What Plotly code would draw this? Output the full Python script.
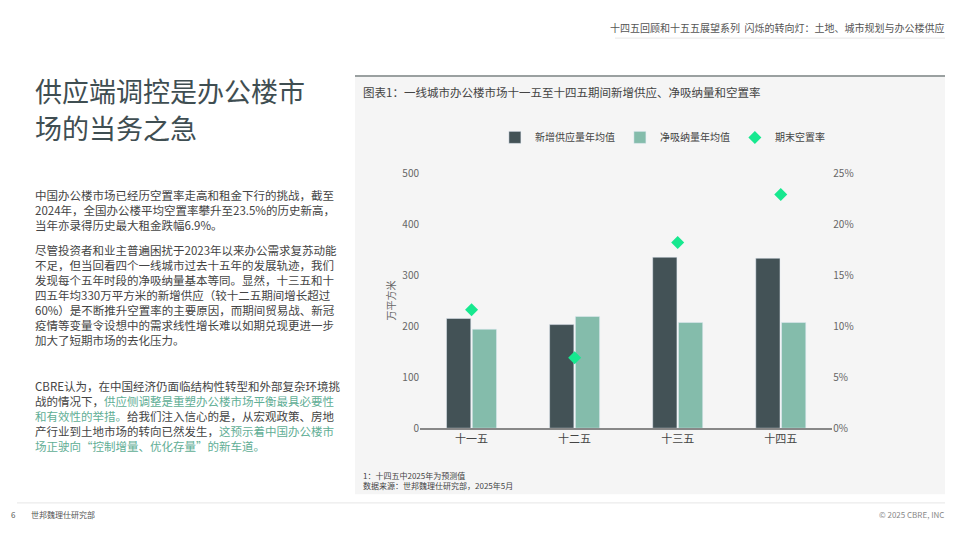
import plotly.graph_objects as go

categories = ["十一五", "十二五", "十三五", "十四五"]
supply = [215, 203, 335, 333]
absorption = [194, 219, 207, 207]
vacancy = [11.6, 6.9, 18.2, 22.9]
y_ticks = [0, 100, 200, 300, 400, 500]
y2_ticks = [0, 5, 10, 15, 20, 25]
y2_labels = ["0%", "5%", "10%", "15%", "20%", "25%"]

FONT = "Noto Sans CJK SC"
DARK = "#435256"
LIGHT = "#84bcab"
GREEN = "#17e88f"
HL = "#5fae95"

fig = go.Figure()
fig.add_bar(x=categories, y=supply, name="新增供应量年均值", marker_color=DARK)
fig.add_bar(x=categories, y=absorption, name="净吸纳量年均值", marker_color=LIGHT)
fig.add_scatter(x=categories, y=vacancy, name="期末空置率", yaxis="y2", mode="markers",
                marker=dict(symbol="diamond", size=10, color=GREEN))

fig.update_layout(
    width=960, height=540, margin=dict(l=0, r=0, t=0, b=0),
    paper_bgcolor="white", plot_bgcolor="rgba(0,0,0,0)",
    font=dict(family=FONT, color="#555", size=10),
    barmode="group", bargap=0.5, bargroupgap=0.06,
    xaxis=dict(domain=[0.4375, 0.867], showline=True, linecolor="#888", linewidth=1.5,
               ticks="", tickfont=dict(size=11, color="#444"), fixedrange=True),
    yaxis=dict(domain=[0.2, 0.687], range=[0, 500], tickvals=y_ticks, showgrid=False,
               zeroline=False, tickfont=dict(size=10, color="#666"),
               title=dict(text="万平方米", font=dict(size=10, color="#666"), standoff=4)),
    yaxis2=dict(overlaying="y", side="right", range=[0, 25], tickvals=y2_ticks,
                ticktext=y2_labels, showgrid=False, zeroline=False,
                tickfont=dict(size=10, color="#666")),
    legend=dict(orientation="h", x=0.69, xanchor="center", y=0.755, yanchor="middle",
                font=dict(size=10, color="#444"), bgcolor="rgba(0,0,0,0)"),
    shapes=[
        dict(type="rect", xref="paper", yref="paper", x0=355/960, x1=945/960,
             y0=1-500/540, y1=1-69/540, fillcolor="#f5f5f5", line_width=0, layer="below"),
        dict(type="line", xref="paper", yref="paper", x0=355/960, x1=945/960,
             y0=1-69/540, y1=1-69/540, line=dict(color="#9aa0a0", width=2)),
        dict(type="line", xref="paper", yref="paper", x0=615/960, x1=945/960,
             y0=1-30/540, y1=1-30/540, line=dict(color="#e6e6e6", width=1)),
        dict(type="line", xref="paper", yref="paper", x0=17/960, x1=945/960,
             y0=1-509/540, y1=1-509/540, line=dict(color="#e6e6e6", width=1)),
    ],
)

def ann(x, y, text, size, color, xanchor="left", yanchor="top"):
    fig.add_annotation(x=x/960, y=1-y/540, xref="paper", yref="paper", text=text,
                       showarrow=False, xanchor=xanchor, yanchor=yanchor, align="left",
                       borderpad=0, font=dict(family=FONT, size=size, color=color))

ann(945, 10, "十四五回顾和十五五展望系列  闪烁的转向灯：土地、城市规划与办公楼供应", 10, "#555", xanchor="right")
ann(34, 63, "供应端调控是办公楼市", 27, "#3f4e52")
ann(34, 101, "场的当务之急", 27, "#3f4e52")
ann(362, 76, "图表1：一线城市办公楼市场十一五至十四五期间新增供应、净吸纳量和空置率", 11.5, "#444")

p1 = ("中国办公楼市场已经历空置率走高和租金下行的挑战，截至<br>"
      "2024年，全国办公楼平均空置率攀升至23.5%的历史新高，<br>"
      "当年亦录得历史最大租金跌幅6.9%。")
p2 = ("尽管投资者和业主普遍困扰于2023年以来办公需求复苏动能<br>"
      "不足，但当回看四个一线城市过去十五年的发展轨迹，我们<br>"
      "发现每个五年时段的净吸纳量基本等同。显然，十三五和十<br>"
      "四五年均330万平方米的新增供应（较十二五期间增长超过<br>"
      "60%）是不断推升空置率的主要原因，而期间贸易战、新冠<br>"
      "疫情等变量令设想中的需求线性增长难以如期兑现更进一步<br>"
      "加大了短期市场的去化压力。")
p3 = ("CBRE认为，在中国经济仍面临结构性转型和外部复杂环境挑<br>"
      f"战的情况下，<span style='color:{HL}'>供应侧调整是重塑办公楼市场平衡最具必要性</span><br>"
      f"<span style='color:{HL}'>和有效性的举措。</span>给我们注入信心的是，从宏观政策、房地<br>"
      f"产行业到土地市场的转向已然发生，<span style='color:{HL}'>这预示着中国办公楼市</span><br>"
      f"<span style='color:{HL}'>场正驶向“控制增量、优化存量”的新车道。</span>")
ann(34, 182, p1, 11.5, "#444")
ann(34, 239, p2, 11.5, "#444")
ann(34, 379, p3, 11.5, "#444")

ann(362, 474, "1：十四五中2025年为预测值<br>数据来源：世邦魏理仕研究部，2025年5月", 8, "#444")
ann(10, 514, "6", 8, "#555")
ann(30, 514, "世邦魏理仕研究部", 8, "#555")
ann(945, 514, "© 2025 CBRE, INC", 8, "#888", xanchor="right")

fig.write_html("out.html", config={"displayModeBar": False},
               post_script="document.body.style.margin='0';")
